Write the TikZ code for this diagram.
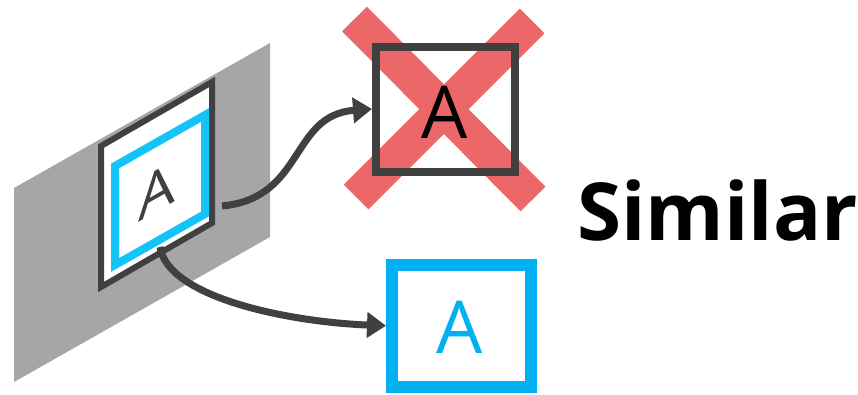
\documentclass[tikz,border=0pt]{standalone}
\usepackage{fontspec}
\setmainfont{Open Sans}
\usetikzlibrary{arrows.meta}
\definecolor{dk}{HTML}{404040}
\definecolor{pane}{HTML}{A6A6A6}
\definecolor{cyanl}{HTML}{14C4F8}
\definecolor{cyand}{HTML}{00B0F0}
\definecolor{redx}{HTML}{EC6767}
\begin{document}
\begin{tikzpicture}[x=1pt,y=-1pt,
  conn/.style={draw=dk, line width=7pt, -{Triangle[length=19pt,width=25pt]}},
  letter/.style={font=\fontsize{73}{73}\selectfont, inner sep=0pt},
  framebox/.style={minimum width=139pt, inner sep=0pt},
]
\useasboundingbox (0,0) rectangle (858,394);
% plane
\fill[pane] (14,188) -- (270,43) -- (270,237) -- (14,382) -- cycle;
\draw[dk, line width=6pt, fill=white] (101,146) -- (212,82) -- (212,223) -- (101,287) -- cycle;
\draw[cyanl, line width=8pt] (115,166) -- (205,115) -- (205,214) -- (115,265) -- cycle;
\node[inner sep=0pt, text=dk, font=\fontsize{58}{58}\selectfont, yslant=0.57] (lA) at (157,191) {A};
\coordinate (s1) at (222,206);
\coordinate (s2) at (160,247);
% crossed-out box
\draw[redx, line width=35pt] (354.5,19) -- (533,199) (532,21) -- (356,197);
\node[framebox, draw=dk, line width=8pt, minimum height=125pt] (tbox) at (445.5,109) {};
\node[letter, text=black] (tA) at (445,112) {A};
% similar box
\node[framebox, draw=cyand, line width=12pt, minimum height=122.5pt] (bbox) at (461.5,325.75) {};
\node[letter, text=cyand] (bA) at (460,327) {A};
% connectors
\draw[conn] (s1) .. controls (305,198) and (290,115) .. (tbox.west);
\draw[conn] (s2) .. controls (168,298) and (290,322) .. (bbox.west);
% label
\node[font=\fontsize{80}{80}\selectfont\bfseries, anchor=base west, inner sep=0pt] (sim) at (577,240) {Similar};
\end{tikzpicture}
\end{document}
